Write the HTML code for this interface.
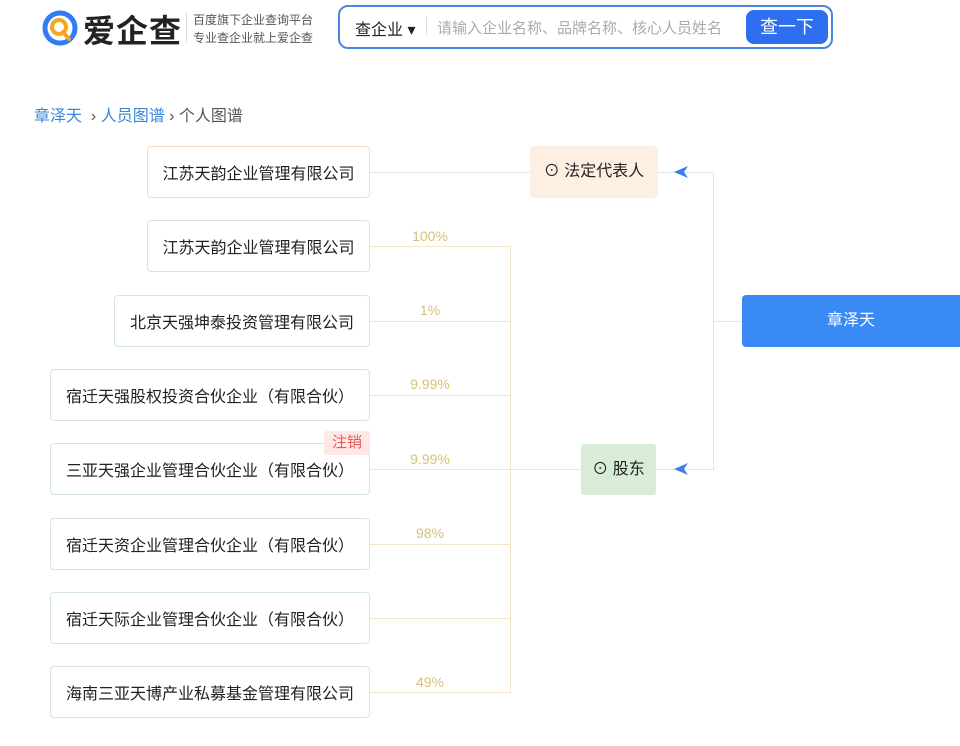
<!DOCTYPE html>
<html><head><meta charset="utf-8"><style>
*{margin:0;padding:0;box-sizing:border-box}
body{width:960px;height:746px;background:#fff;position:relative;overflow:hidden;font-family:"Liberation Sans","Noto Sans CJK SC",sans-serif;color:#333}
.a{position:absolute}
.box{position:absolute;background:#fff;border:1px solid #d5e6dc;border-radius:4px;height:52px;font-size:16px;color:#222;display:flex;align-items:center;justify-content:center;right:590px}
.pct{position:absolute;font-size:14px;color:#d8c07a;width:80px;text-align:center;left:390px}
.h{position:absolute;height:1px;background:#f3e6c8;left:370px;width:140px}
</style></head><body>
<!-- header -->
<svg class="a" style="left:42px;top:10px" width="36" height="36" viewBox="0 0 36 36">
<path d="M18 3a15 15 0 1 0 12 24" fill="none" stroke="#2f7cf6" stroke-width="5"/>
<path d="M30 27a15 15 0 0 0-12-24" fill="none" stroke="#2f7cf6" stroke-width="5"/>
<circle cx="17" cy="17" r="7" fill="none" stroke="#f5a623" stroke-width="4"/>
<line x1="21" y1="22" x2="27" y2="29" stroke="#f5a623" stroke-width="4" stroke-linecap="round"/>
</svg>
<div class="a" style="left:83px;top:6px;font-size:32px;font-weight:bold;color:#222;letter-spacing:1px">爱企查</div>
<div class="a" style="left:186px;top:12px;width:1px;height:30px;background:#ddd"></div>
<div class="a" style="left:193px;top:11px;font-size:12px;color:#555;line-height:18px">百度旗下企业查询平台<br>专业查企业就上爱企查</div>
<div class="a" style="left:338px;top:5px;width:495px;height:44px;border:2px solid #4a86e0;border-radius:10px"></div>
<div class="a" style="left:355px;top:16px;font-size:16px;color:#222">查企业 ▾</div>
<div class="a" style="left:426px;top:17px;width:1px;height:18px;background:#ddd"></div>
<div class="a" style="left:437px;top:17px;font-size:15px;color:#aaa">请输入企业名称、品牌名称、核心人员姓名</div>
<div class="a" style="left:746px;top:10px;width:82px;height:34px;background:#2e6ff0;border-radius:8px;color:#fff;font-size:18px;text-align:center;line-height:34px">查一下</div>
<div class="a" style="left:34px;top:102px;font-size:16px;color:#555"><span style="color:#3a86d8">章泽天</span> &nbsp;› <span style="color:#3a86d8">人员图谱</span> › 个人图谱</div>

<!-- connectors -->
<div class="a" style="left:370px;top:172px;width:160px;height:1px;background:#dbe6f2"></div>
<div class="a" style="left:658px;top:172px;width:56px;height:1px;background:#dbe6f2"></div>
<div class="a" style="left:656px;top:469px;width:58px;height:1px;background:#dbe6f2"></div>
<div class="a" style="left:713px;top:172px;width:1px;height:298px;background:#dbe6f2"></div>
<div class="a" style="left:713px;top:321px;width:29px;height:1px;background:#dbe6f2"></div>
<svg class="a" style="left:674px;top:166px" width="16" height="12"><path d="M0 6L14 0L10 6L14 12Z" fill="#3b82e8"/></svg>
<svg class="a" style="left:674px;top:463px" width="16" height="12"><path d="M0 6L14 0L10 6L14 12Z" fill="#3b82e8"/></svg>
<div class="a" style="left:510px;top:246px;width:1px;height:447px;background:#f3e6c8"></div>
<div class="a" style="left:510px;top:469px;width:71px;height:1px;background:#f3e6c8"></div>
<div class="h" style="top:246px"></div><div class="h" style="top:321px"></div><div class="h" style="top:395px"></div><div class="h" style="top:469px"></div><div class="h" style="top:544px"></div><div class="h" style="top:618px"></div><div class="h" style="top:692px"></div>
<div class="pct" style="top:228px">100%</div>
<div class="pct" style="top:302px">1%</div>
<div class="pct" style="top:376px">9.99%</div>
<div class="pct" style="top:451px">9.99%</div>
<div class="pct" style="top:525px">98%</div>
<div class="pct" style="top:674px">49%</div>

<!-- boxes -->
<div class="box" style="left:147px;top:146px;border-color:#f3dcc0">江苏天韵企业管理有限公司</div>
<div class="box" style="left:147px;top:220px">江苏天韵企业管理有限公司</div>
<div class="box" style="left:114px;top:295px">北京天强坤泰投资管理有限公司</div>
<div class="box" style="left:50px;top:369px">宿迁天强股权投资合伙企业（有限合伙）</div>
<div class="box" style="left:50px;top:443px">三亚天强企业管理合伙企业（有限合伙）</div>
<div class="a" style="left:324px;top:431px;width:46px;height:24px;background:#fde8e6;color:#e85a4f;font-size:15px;text-align:center;line-height:24px;border-radius:3px">注销</div>
<div class="box" style="left:50px;top:518px">宿迁天资企业管理合伙企业（有限合伙）</div>
<div class="box" style="left:50px;top:592px">宿迁天际企业管理合伙企业（有限合伙）</div>
<div class="box" style="left:50px;top:666px">海南三亚天博产业私募基金管理有限公司</div>

<div class="a" style="left:530px;top:146px;width:128px;height:52px;background:#fdf0e2;border-radius:3px;font-size:16px;color:#222;line-height:52px;text-align:center">⊙ 法定代表人</div>
<div class="a" style="left:581px;top:444px;width:75px;height:51px;background:#d9ecd8;border-radius:3px;font-size:16px;color:#222;line-height:51px;text-align:center">⊙ 股东</div>
<div class="a" style="left:742px;top:295px;width:218px;height:52px;background:#3a8af6;border-radius:4px 0 0 4px;font-size:16px;color:#fff;line-height:52px;text-align:center">章泽天</div>
</body></html>
